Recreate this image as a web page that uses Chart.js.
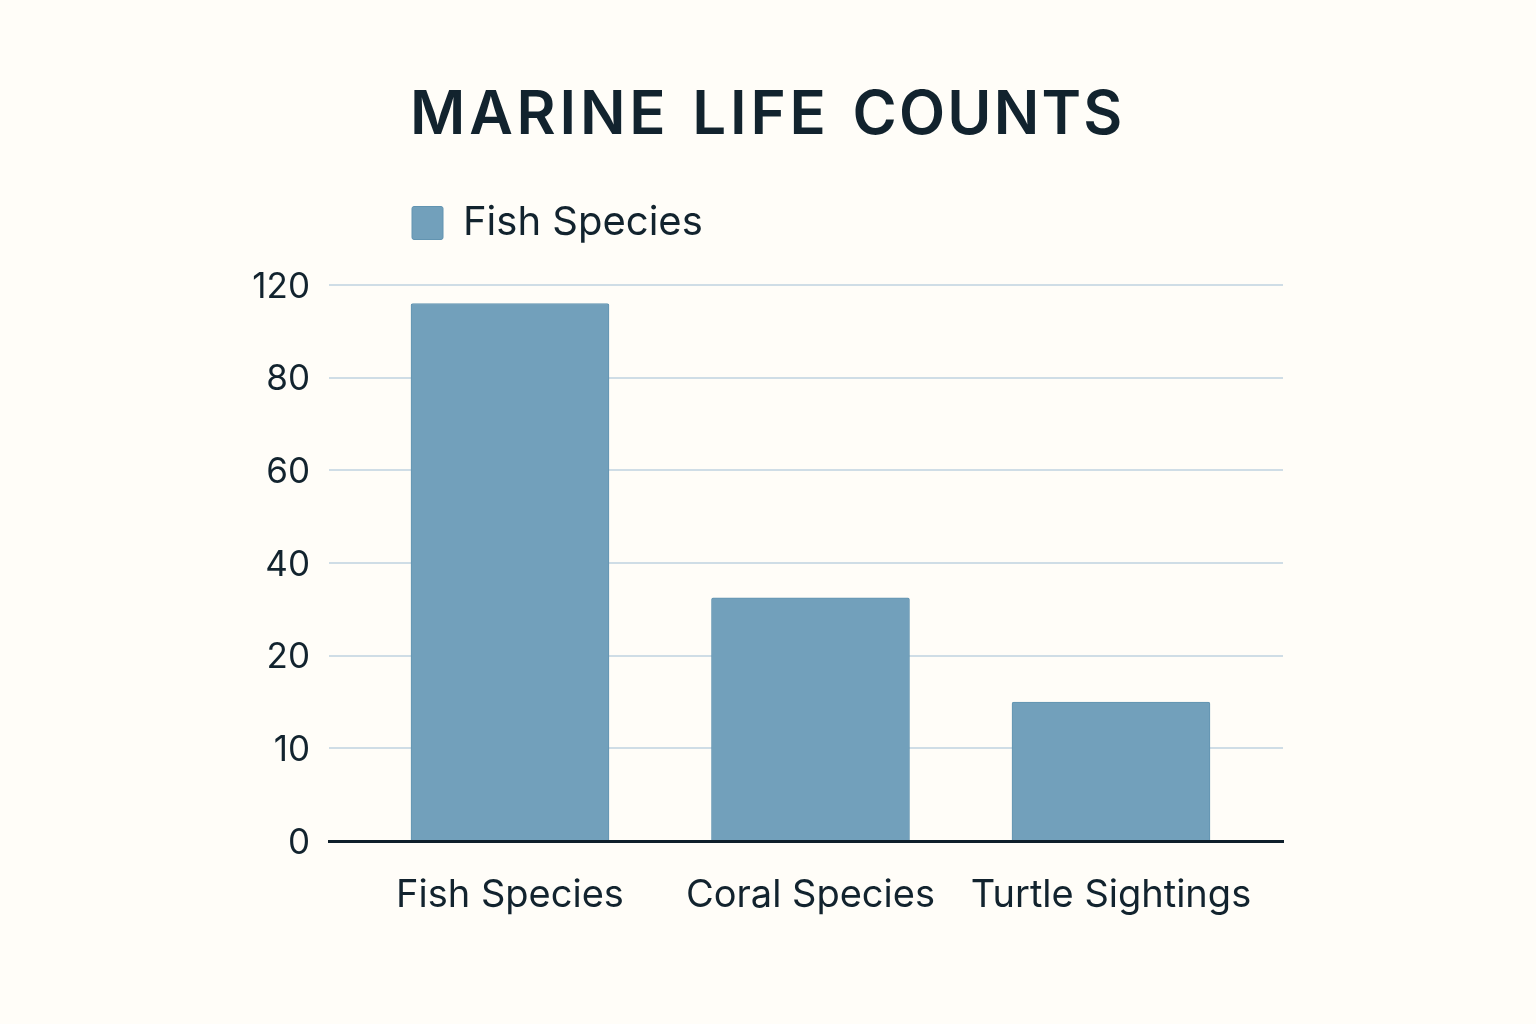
<!DOCTYPE html>
<html lang="en">
<head>
<meta charset="utf-8">
<title>Marine Life Counts</title>
<script src="https://cdn.jsdelivr.net/npm/chart.js@4"></script>
<style>
  html, body { margin: 0; padding: 0; background: #fffdf8; }
  #wrap { position: relative; width: 1536px; height: 1024px; overflow: hidden; }
  #chart { display: block; }
  h1 {
    position: absolute; left: 410px; top: 76px; margin: 0;
    font: 600 60px/72px Inter, sans-serif; letter-spacing: 3.8px; word-spacing: 4px;
    color: #12232e; white-space: nowrap;
  }
  h1 span { letter-spacing: 2.2px; }
</style>
</head>
<body>
<div id="wrap">
  <h1>MARINE LIFE <span>COUNTS</span></h1>
  <canvas id="chart" width="1536" height="1024"></canvas>
</div>
<script>
(function () {
    'use strict';

    const categories = ['Fish Species', 'Coral Species', 'Turtle Sightings'];
    const seriesName = 'Fish Species';
    const counts = [112, 32.5, 15];
    const yTicks = [0, 10, 20, 40, 60, 80, 120];

    // the picture's value axis has evenly spaced but unevenly valued ticks
    class StepScale extends Chart.LinearScale {
        static id = 'step';
        buildTicks() {
            return yTicks.map((value) => ({ value }));
        }
        getPixelForValue(value) {
            let i = 0;
            while (i < yTicks.length - 2 && value > yTicks[i + 1]) i++;
            const frac = (value - yTicks[i]) / (yTicks[i + 1] - yTicks[i]);
            return this.getPixelForDecimal((i + frac) / (yTicks.length - 1));
        }
    }

    // category axis with a 300px band and uneven margins to the axis ends
    class InsetCategoryScale extends Chart.CategoryScale {
        static id = 'insetCategory';
        configure() {
            super.configure();
            this._startValue = -0.6023;
            this._valueRange = 3.1747;
        }
    }

    Chart.register(StepScale, InsetCategoryScale);

    const moveLegend = {
        id: 'moveLegend',
        afterLayout(chart) {
            const legend = chart.legend;
            const w = legend.width;
            const h = legend.height;
            legend.left = 402;
            legend.right = legend.left + w;
            legend.top -= 32;
            legend.bottom = legend.top + h;
        },
    };

    const fontFamily = 'Inter, sans-serif';
    const textColor = '#12232e';

    new Chart(document.getElementById('chart'), {
        type: 'bar',
        plugins: [moveLegend],
        data: {
            labels: categories,
            datasets: [{
                label: seriesName,
                data: counts,
                backgroundColor: '#72a0bb',
                borderColor: '#6294b1',
                borderWidth: 1,
                borderRadius: 2,
                borderSkipped: 'bottom',
                barThickness: 198,
            }],
        },
        options: {
            responsive: false,
            animation: false,
            layout: { autoPadding: false, padding: { top: 225, left: 0, right: 253, bottom: 0 } },
            plugins: {
                tooltip: { enabled: false },
                legend: {
                    position: 'top',
                    align: 'start',
                    labels: {
                        boxWidth: 31,
                        boxHeight: 33,
                        padding: 10,
                        useBorderRadius: true,
                        borderRadius: 2,
                        color: textColor,
                        font: { family: fontFamily, size: 40 },
                    },
                },
            },
            scales: {
                x: {
                    type: 'insetCategory',
                    afterFit: (axis) => { axis.height = 183; },
                    grid: { display: false },
                    border: { color: '#0f1f2b', width: 3, z: 1 },
                    ticks: {
                        color: textColor,
                        padding: 24,
                        maxRotation: 0,
                        autoSkip: false,
                        font: { family: fontFamily, size: 38 },
                    },
                },
                y: {
                    type: 'step',
                    min: 0,
                    max: 120,
                    afterFit: (axis) => { axis.width = 329; },
                    border: { display: false },
                    grid: { color: '#cfdde6', lineWidth: 2, drawTicks: false },
                    ticks: {
                        color: textColor,
                        padding: 19,
                        labelOffset: 2,
                        callback: (v) => String(v),
                        font: { family: fontFamily, size: 35 },
                    },
                },
            },
        },
    });
})();
</script>
</body>
</html>
